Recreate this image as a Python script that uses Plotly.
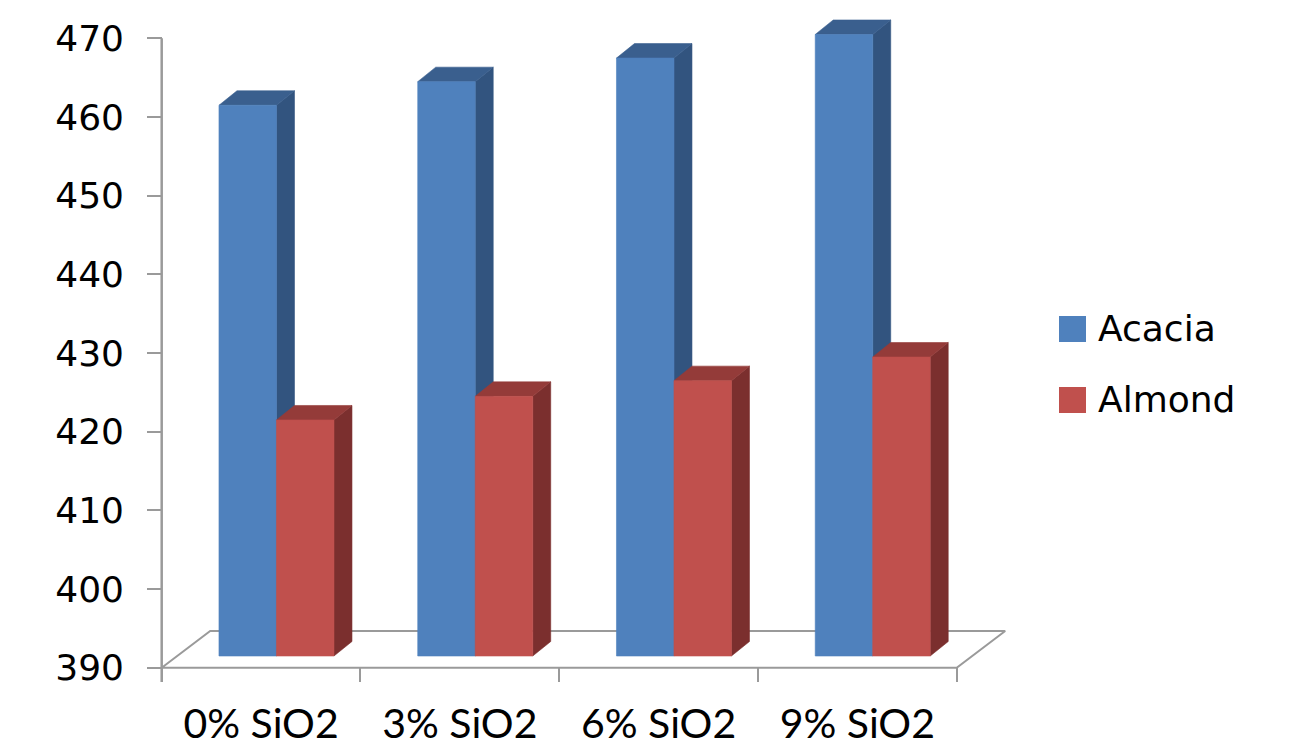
import plotly.graph_objects as go

# ---- data -------------------------------------------------------------
categories = ["0% SiO2", "3% SiO2", "6% SiO2", "9% SiO2"]
acacia = [460, 463, 466, 469]
almond = [420, 423, 425, 428]
series_names = ["Acacia", "Almond"]
y_ticks = [390, 400, 410, 420, 430, 440, 450, 460, 470]

# ---- colours ----------------------------------------------------------
BLUE = dict(front="#4F81BD", top="#3A5F8E", side="#32547F")
RED = dict(front="#C0504D", top="#943B39", side="#7B2F2E")
AXIS_GREY = "#9A9A9A"

# ---- page / plot-area frame (pixels) ----------------------------------
W, H = 1293, 753
PL, PR, PT, PB = 147, 1015, 10, 682
AX_X0, AX_X1 = 161.7, 956.7       # front edge of floor: category span
AX_YBOT, AX_YTOP = 667.7, 38.3    # pixel rows of first / last y tick

px_per_cat = (AX_X1 - AX_X0) / len(categories)
px_per_val = (AX_YBOT - AX_YTOP) / (y_ticks[-1] - y_ticks[0])
x_lo = -0.5 - (AX_X0 - PL) / px_per_cat
x_hi = x_lo + (PR - PL) / px_per_cat
y_lo = y_ticks[0] - (PB - AX_YBOT) / px_per_val
y_hi = y_lo + (PB - PT) / px_per_val


def ddx(px):
    return px / px_per_cat


def ddy(px):
    return px / px_per_val


def paper_x(px):
    return (px - PL) / (PR - PL)


def paper_y(py):
    return (PB - py) / (PB - PT)


# oblique projection parameters (pixels)
FLOOR_DEPTH = (48.5, 36.7)
BAR_PLANE = (15.4, 11.7)
BAR_DEPTH = (18.0, 14.5)
BAR_W = 57.5

base = y_ticks[0]
x_first = -0.5
x_last = len(categories) - 0.5

fig = go.Figure()

# floor outline
fdx, fdy = ddx(FLOOR_DEPTH[0]), ddy(FLOOR_DEPTH[1])
fig.add_trace(go.Scatter(
    x=[x_first, x_last, x_last + fdx, x_first + fdx, x_first],
    y=[base, base, base + fdy, base + fdy, base],
    mode="lines", line=dict(color=AXIS_GREY, width=2),
    fill="toself", fillcolor="white", hoverinfo="skip", showlegend=False))

# vertical value axis line
fig.add_trace(go.Scatter(
    x=[x_first, x_first], y=[y_lo, y_ticks[-1]],
    mode="lines", line=dict(color=AXIS_GREY, width=2.5),
    hoverinfo="skip", showlegend=False))

# 3-D columns
pdx, pdy = ddx(BAR_PLANE[0]), ddy(BAR_PLANE[1])
bdx, bdy = ddx(BAR_DEPTH[0]), ddy(BAR_DEPTH[1])
bw = ddx(BAR_W)


def faces(values, slot):
    front_x, front_y, top_x, top_y, side_x, side_y = [], [], [], [], [], []
    for i, v in enumerate(values):
        x0 = i + pdx + (slot - 1) * bw
        x1 = x0 + bw
        y0 = base + pdy
        y1 = v + pdy
        front_x += [x0, x1, x1, x0, x0, None]
        front_y += [y0, y0, y1, y1, y0, None]
        top_x += [x0, x1, x1 + bdx, x0 + bdx, x0, None]
        top_y += [y1, y1, y1 + bdy, y1 + bdy, y1, None]
        side_x += [x1, x1 + bdx, x1 + bdx, x1, x1, None]
        side_y += [y0, y0 + bdy, y1 + bdy, y1, y0, None]
    return (front_x, front_y), (top_x, top_y), (side_x, side_y)


for slot, (name, vals, col) in enumerate(
        [(series_names[0], acacia, BLUE), (series_names[1], almond, RED)]):
    front, top, side = faces(vals, slot)
    for (xs, ys), key in ((side, "side"), (top, "top"), (front, "front")):
        fig.add_trace(go.Scatter(
            x=xs, y=ys, mode="lines", fill="toself",
            fillcolor=col[key], line=dict(color=col[key], width=0.6),
            name=name, hoverinfo="skip", showlegend=False))

# legend (swatches + labels)
legend_rows = [(series_names[0], BLUE["front"], 316, 328),
               (series_names[1], RED["front"], 387, 399)]
for name, color, sw_top, txt_mid in legend_rows:
    fig.add_shape(type="rect", xref="paper", yref="paper",
                  x0=paper_x(1059), x1=paper_x(1086),
                  y0=paper_y(sw_top + 26), y1=paper_y(sw_top),
                  fillcolor=color, line=dict(width=0))
    fig.add_annotation(xref="paper", yref="paper",
                       x=paper_x(1096), y=paper_y(txt_mid),
                       xanchor="left", yanchor="middle", showarrow=False,
                       text=name,
                       font=dict(family="DejaVu Sans", size=36, color="black"))

fig.update_layout(
    width=W, height=H,
    margin=dict(l=PL, r=W - PR, t=PT, b=H - PB, pad=0),
    paper_bgcolor="white", plot_bgcolor="white",
    showlegend=False,
    xaxis=dict(
        range=[x_lo, x_hi], showgrid=False, zeroline=False, showline=False,
        automargin=False,
        tickmode="array", tickvals=list(range(len(categories))),
        ticktext=categories, ticks="",
        tickfont=dict(family="Lato", size=41, color="black"),
        ticklabelstandoff=14,
        minor=dict(tickmode="array",
                   tickvals=[i - 0.5 for i in range(len(categories) + 1)],
                   ticks="inside", ticklen=14.3, tickwidth=2,
                   tickcolor=AXIS_GREY, showgrid=False),
        fixedrange=True,
    ),
    yaxis=dict(
        range=[y_lo, y_hi], showgrid=False, zeroline=False, showline=False,
        automargin=False,
        tickmode="array", tickvals=y_ticks,
        ticks="inside", ticklen=14.7, tickwidth=2, tickcolor=AXIS_GREY,
        tickfont=dict(family="DejaVu Sans", size=36, color="black"),
        ticklabelstandoff=22,
        fixedrange=True,
    ),
)

fig.write_html("out.html")
